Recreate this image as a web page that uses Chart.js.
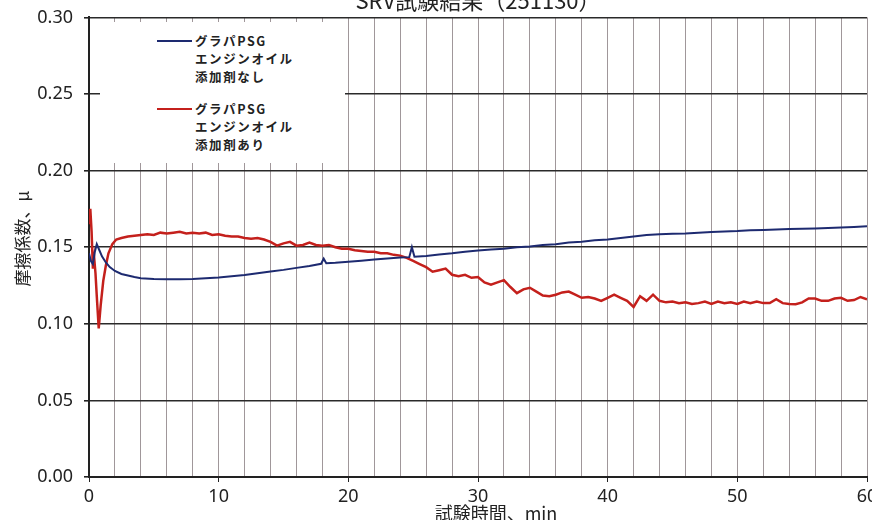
<!DOCTYPE html>
<html><head><meta charset="utf-8">
<script src="https://cdn.jsdelivr.net/npm/chart.js@4.4.1/dist/chart.umd.min.js"></script>
<style>
html,body{margin:0;padding:0;background:#fff;overflow:hidden;width:872px;height:520px;}
#wrap{position:absolute;left:0;top:-20px;width:872px;height:545px;}
#legend{position:absolute;left:100px;top:22px;width:245px;height:141px;background:#fff;font-family:"Noto Sans CJK JP";font-weight:700;font-size:12.5px;letter-spacing:1.6px;color:#222;z-index:2;}
.line{position:absolute;left:57px;width:35px;height:2px;}
.txt{position:absolute;left:95px;line-height:17.8px;white-space:nowrap;}
</style></head>
<body>
<div id="wrap"><canvas id="c"></canvas></div>
<div id="legend"></div>
<script>
// ---- texts ----
const chartTitle = 'SRV試験結果（251130）';
const xAxisTitle = '　　試験時間、min';
const yAxisTitle = '　摩擦係数、μ';
const seriesNames = ['グラパPSG\nエンジンオイル\n添加剤なし', 'グラパPSG\nエンジンオイル\n添加剤あり'];
const seriesColors = ['#1d2a70', '#c4201c'];

// ---- axis ticks ----
const xMin = 0, xMax = 60, xGridStep = 2, xLabelStep = 10;
const yMin = 0, yMax = 0.30, yStep = 0.05;

// ---- series: 添加剤なし (blue) ----
const blueTime = [0,0.15,0.3,0.45,0.6,0.8,1.0,1.3,1.6,2.0,2.5,3,3.5,4,5,6,7,8,9,10,11,12,13,14,15,16,17,17.9,18.1,18.3,19,20,21,22,23,24,24.7,24.9,25.1,26,27,28,29,30,31,32,33,34,35,36,37,38,39,40,41,42,43,44,45,46,47,48,49,50,51,52,53,54,55,56,57,58,59,60];
const blueMu = [0.146,0.141,0.139,0.147,0.152,0.148,0.144,0.140,0.137,0.1345,0.1325,0.1315,0.1305,0.1298,0.1293,0.129,0.129,0.1292,0.1298,0.1303,0.131,0.1318,0.133,0.1342,0.1352,0.1365,0.1378,0.1392,0.1425,0.1395,0.1398,0.1405,0.1412,0.142,0.1427,0.1432,0.1435,0.150,0.1438,0.1442,0.1452,0.146,0.147,0.1478,0.1485,0.149,0.150,0.1505,0.1515,0.152,0.153,0.1535,0.1545,0.155,0.156,0.157,0.158,0.1585,0.1588,0.159,0.1595,0.160,0.1602,0.1605,0.161,0.1612,0.1615,0.1618,0.162,0.1622,0.1625,0.1628,0.1632,0.1637];

// ---- series: 添加剤あり (red) ----
const redTime = [0,0.1,0.2,0.3,0.4,0.5,0.6,0.75,0.9,1.1,1.3,1.5,1.8,2.1,2.5,3,3.5,4,4.5,5,5.5,6,6.5,7,7.5,8,8.5,9,9.5,10,10.5,11,11.5,12,12.5,13,13.5,14,14.5,15,15.5,16,16.5,17,17.5,18,18.5,19,19.5,20,20.5,21,21.5,22,22.5,23,23.5,24,24.5,25,25.5,26,26.5,27,27.5,28,28.5,29,29.5,30,30.5,31,31.5,32,32.5,33,33.5,34,34.5,35,35.5,36,36.5,37,37.5,38,38.5,39,39.5,40,40.5,41,41.5,42,42.5,43,43.5,44,44.5,45,45.5,46,46.5,47,47.5,48,48.5,49,49.5,50,50.5,51,51.5,52,52.5,53,53.5,54,54.5,55,55.5,56,56.5,57,57.5,58,58.5,59,59.5,60];
const redMu = [0.165,0.175,0.160,0.136,0.143,0.133,0.118,0.097,0.112,0.128,0.138,0.146,0.152,0.155,0.156,0.157,0.1575,0.158,0.1585,0.158,0.1595,0.159,0.1595,0.160,0.159,0.1595,0.159,0.1595,0.158,0.1585,0.1575,0.157,0.157,0.156,0.1555,0.156,0.155,0.1535,0.151,0.1525,0.1535,0.151,0.1515,0.153,0.1515,0.151,0.1515,0.150,0.149,0.149,0.148,0.1475,0.147,0.147,0.146,0.146,0.145,0.1445,0.143,0.141,0.139,0.137,0.134,0.135,0.136,0.132,0.131,0.132,0.130,0.1305,0.127,0.1255,0.127,0.1285,0.124,0.120,0.1225,0.1235,0.121,0.1185,0.118,0.119,0.1205,0.121,0.119,0.117,0.1175,0.1165,0.115,0.117,0.119,0.117,0.115,0.111,0.118,0.115,0.119,0.115,0.114,0.1145,0.1135,0.114,0.113,0.1135,0.1145,0.113,0.1145,0.1135,0.114,0.113,0.1145,0.1135,0.1145,0.1135,0.1135,0.116,0.1135,0.113,0.1128,0.114,0.1165,0.1165,0.115,0.115,0.1165,0.117,0.115,0.1155,0.1175,0.116];

const toXY = (t, v) => t.map((x, i) => ({x: x, y: v[i]}));

// legend (HTML, real text)
const lg = document.getElementById('legend');
const legendTops = [10, 78];
seriesNames.forEach((name, i) => {
  const ln = document.createElement('div');
  ln.className = 'line';
  ln.style.top = (legendTops[i] + 8) + 'px';
  ln.style.background = seriesColors[i];
  lg.appendChild(ln);
  const tx = document.createElement('div');
  tx.className = 'txt';
  tx.style.top = legendTops[i] + 'px';
  tx.innerHTML = name.split('\n').join('<br>');
  lg.appendChild(tx);
});

const tickFont = {family: '"Noto Sans", sans-serif', size: 18};
new Chart(document.getElementById('c'), {
  type: 'line',
  data: {
    datasets: [
      {label: seriesNames[0], data: toXY(blueTime, blueMu), borderColor: seriesColors[0], borderWidth: 2, pointRadius: 0, tension: 0},
      {label: seriesNames[1], data: toXY(redTime, redMu), borderColor: seriesColors[1], borderWidth: 2.5, pointRadius: 0, tension: 0}
    ]
  },
  options: {
    responsive: true, maintainAspectRatio: false, animation: false,
    layout: {padding: {left: 0, right: 5, top: 0, bottom: 0}},
    plugins: {
      legend: {display: false},
      tooltip: {enabled: false},
      title: {display: true, text: chartTitle, fullSize: false, color: '#222',
        font: {family: '"Noto Sans CJK JP", sans-serif', size: 22, weight: 'normal', lineHeight: 1.2},
        padding: {top: 7, bottom: 4}}
    },
    scales: {
      x: {
        type: 'linear', min: xMin, max: xMax,
        afterFit(s) { s.height = 48; s.paddingLeft = 0; s.paddingRight = 0; },
        ticks: {stepSize: xGridStep, autoSkip: false, maxRotation: 0, color: '#222', font: tickFont, padding: 4,
          callback: v => (v % xLabelStep === 0 ? String(v) : '')},
        grid: {color: '#a0979a', lineWidth: 1, tickLength: 5,
          tickColor: ctx => (ctx.tick && ctx.tick.value % xLabelStep === 0 ? '#222' : 'rgba(0,0,0,0)')},
        border: {display: true, color: '#222', width: 2},
        title: {display: true, text: xAxisTitle, color: '#222',
          font: {family: '"Noto Sans CJK JP", sans-serif', size: 18, lineHeight: 1.2}, padding: {top: 0, bottom: 1}}
      },
      y: {
        min: yMin, max: yMax,
        afterFit(s) { s.width = 89; s.paddingTop = 0; s.paddingBottom = 0; },
        ticks: {stepSize: yStep, color: '#222', font: tickFont, padding: 11, callback: v => Number(v).toFixed(2)},
        grid: {color: '#2a2a2a', lineWidth: 1.6, tickLength: 5, tickColor: '#222'},
        border: {display: true, color: '#222', width: 2},
        title: {display: true, text: yAxisTitle, color: '#222',
          font: {family: '"Noto Sans CJK JP", sans-serif', size: 17, lineHeight: 1.2}, padding: {top: 12, bottom: 0}}
      }
    }
  }
});
</script>
</body></html>
